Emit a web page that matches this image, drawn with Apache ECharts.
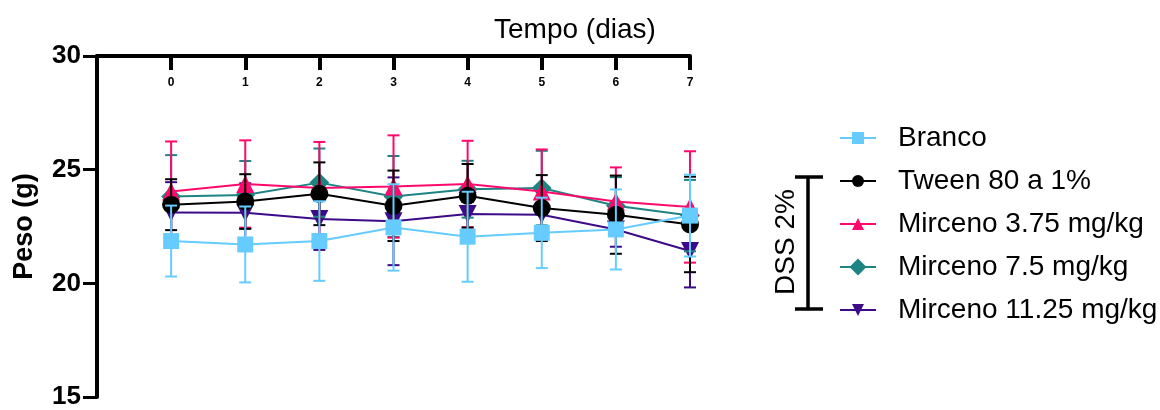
<!DOCTYPE html>
<html>
<head>
<meta charset="utf-8">
<script src="https://cdn.jsdelivr.net/npm/echarts@6/dist/echarts.min.js"></script>
<style>
html,body{margin:0;padding:0;background:#fff;}
#c{width:1160px;height:410px;}
</style>
</head>
<body>
<div id="c"></div>
<script>
const days = [0, 1, 2, 3, 4, 5, 6, 7];
const xTicks = [0, 1, 2, 3, 4, 5, 6, 7];
const yTicks = [15, 20, 25, 30];

const names = ['Branco', 'Tween 80 a 1%', 'Mirceno 3.75 mg/kg', 'Mirceno 7.5 mg/kg', 'Mirceno 11.25 mg/kg'];
const colors = ['#66CCFF', '#000000', '#FF0A6C', '#1E8483', '#3D0A88'];

const branco = [21.86, 21.71, 21.86, 22.46, 22.05, 22.22, 22.37, 22.98];
const brancoSD = [1.56, 1.67, 1.75, 1.9, 1.98, 1.55, 1.76, 1.8];
const tween = [23.46, 23.60, 23.94, 23.41, 23.85, 23.31, 23.02, 22.59];
const tweenSD = [1.12, 1.2, 1.38, 1.55, 1.4, 1.45, 1.72, 2.1];
const m375 = [24.04, 24.37, 24.19, 24.26, 24.37, 24.04, 23.6, 23.36];
const m375SD = [2.2, 1.92, 2.03, 2.25, 1.9, 1.85, 1.5, 2.45];
const m75 = [23.82, 23.89, 24.43, 23.82, 24.14, 24.19, 23.41, 22.98];
const m75SD = [1.82, 1.49, 1.5, 1.78, 1.25, 1.64, 1.26, 1.57];
const m1125 = [23.12, 23.1, 22.83, 22.73, 23.05, 23.02, 22.37, 21.42];
const m1125SD = [1.33, 1.3, 1.36, 1.93, 1.1, 1.0, 0.76, 1.6];

const means = [branco, tween, m375, m75, m1125];
const sds = [brancoSD, tweenSD, m375SD, m75SD, m1125SD];
const symbols = ['rect', 'circle', 'triangle', 'rect', 'triangle'];
const symRot = [0, 0, 0, 45, 180];
const symSize = [16, 18, 18, 14, 18];

const FONT = 'Liberation Sans, Arial, sans-serif';

const series = [];
const order = [4, 3, 2, 1, 0];
order.forEach((i, k) => {
  const col = colors[i];
  series.push({
    name: names[i] + ' sd',
    type: 'custom',
    z: 2 + k * 2,
    clip: false,
    silent: true,
    encode: { x: 0, y: 1 },
    data: days.map((d, j) => [d, means[i][j], sds[i][j]]),
    renderItem: function (params, api) {
      const x = api.value(0), m = api.value(1), s = api.value(2);
      const top = api.coord([x, m + s]);
      const bot = api.coord([x, m - s]);
      const hw = 6;
      const st = { stroke: col, lineWidth: 2 };
      return {
        type: 'group',
        children: [
          { type: 'line', shape: { x1: top[0], y1: top[1], x2: bot[0], y2: bot[1] }, style: st },
          { type: 'line', shape: { x1: top[0] - hw, y1: top[1], x2: top[0] + hw, y2: top[1] }, style: st },
          { type: 'line', shape: { x1: bot[0] - hw, y1: bot[1], x2: bot[0] + hw, y2: bot[1] }, style: st }
        ]
      };
    }
  });
  series.push({
    name: names[i],
    type: 'line',
    z: 3 + k * 2,
    data: days.map((d, j) => [d, means[i][j]]),
    symbol: symbols[i],
    symbolRotate: symRot[i],
    symbolSize: symSize[i],
    showAllSymbol: true,
    lineStyle: { color: col, width: 2 },
    itemStyle: { color: col, borderWidth: 0 },
    emphasis: { disabled: true },
    animation: false
  });
});

const chart = echarts.init(document.getElementById('c'), null, { renderer: 'canvas' });
chart.setOption({
  animation: false,
  backgroundColor: '#fff',
  textStyle: { fontFamily: FONT },
  grid: { left: 97, right: 470, top: 56, bottom: 11, containLabel: false },
  xAxis: {
    type: 'value',
    position: 'top',
    min: -1,
    max: 7,
    interval: 1,
    splitLine: { show: false },
    axisLine: { show: true, onZero: false, lineStyle: { color: '#000', width: 4 } },
    axisTick: { show: true, inside: true, length: 14, lineStyle: { color: '#000', width: 4 }, customValues: xTicks },
    axisLabel: { show: true, inside: true, margin: 21, fontSize: 12, fontWeight: 'bold', color: '#000', fontFamily: FONT, customValues: xTicks }
  },
  yAxis: {
    type: 'value',
    min: 15,
    max: 30,
    interval: 5,
    name: 'Peso (g)',
    nameLocation: 'middle',
    nameGap: 59,
    nameTextStyle: { fontSize: 27, fontWeight: 'bold', color: '#000', fontFamily: FONT },
    splitLine: { show: false },
    axisLine: { show: true, onZero: false, lineStyle: { color: '#000', width: 4 } },
    axisTick: { show: true, length: 14, lineStyle: { color: '#000', width: 3 }, customValues: yTicks },
    axisLabel: { fontSize: 26, fontWeight: 'bold', color: '#000', margin: 16, fontFamily: FONT, customValues: yTicks }
  },
  legend: {
    orient: 'vertical',
    left: 834,
    top: 119,
    itemWidth: 36,
    itemHeight: 15,
    itemGap: 15,
    data: names,
    selectedMode: false,
    textStyle: { fontSize: 28, color: '#000', fontFamily: FONT, padding: [0, 0, 0, 17] }
  },
  graphic: [
    { type: 'text', left: 494, top: 16, style: { text: 'Tempo (dias)', fontSize: 28, fill: '#000', fontFamily: FONT } },
    { type: 'line', shape: { x1: 808, y1: 177, x2: 808, y2: 309 }, style: { stroke: '#000', lineWidth: 3.5 } },
    { type: 'line', shape: { x1: 795, y1: 177, x2: 823, y2: 177 }, style: { stroke: '#000', lineWidth: 3.5 } },
    { type: 'line', shape: { x1: 795, y1: 309, x2: 823, y2: 309 }, style: { stroke: '#000', lineWidth: 3.5 } },
    { type: 'text', x: 786, y: 242, rotation: Math.PI / 2, style: { text: 'DSS 2%', fontSize: 28, fill: '#000', fontFamily: FONT, align: 'center', verticalAlign: 'middle' } }
  ],
  series: series
});
</script>
</body>
</html>
